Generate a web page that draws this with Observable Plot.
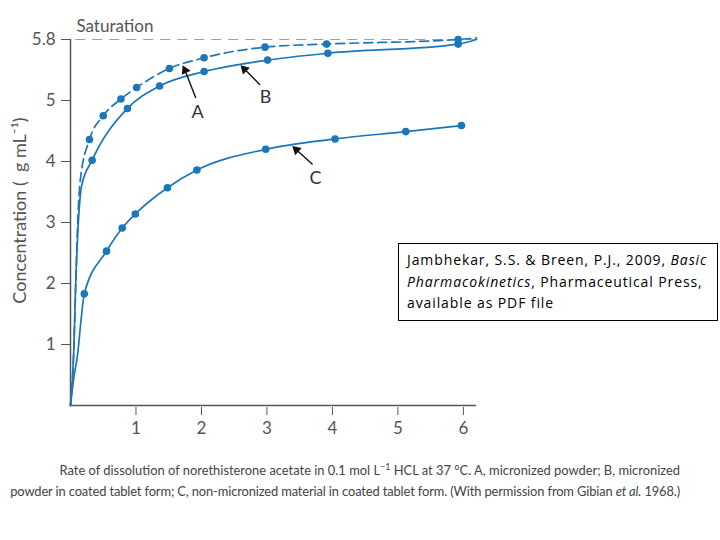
<!DOCTYPE html>
<html>
<head>
<meta charset="utf-8">
<script src="https://cdn.jsdelivr.net/npm/d3@7"></script>
<script src="https://cdn.jsdelivr.net/npm/@observablehq/plot@0.6"></script>
<style>
  body { margin: 0; background: #fff; }
  #wrap { position: relative; width: 720px; height: 540px; overflow: hidden; }
  #caption { position: absolute; right: 40px; top: 460px; text-align: right; white-space: nowrap;
    font-family: Lato, "Liberation Sans", sans-serif;
    font-size: 12.9px; line-height: 21px; color: #444; }
  #caption .l2 { letter-spacing: -0.13px; }
  #caption sup { font-size: 9px; line-height: 0; }
  #cite { position: absolute; left: 398px; top: 243px; width: 310px; height: 67px;
    border: 1px solid #000; padding: 5px 0 4px 8px; white-space: nowrap;
    font-family: "Open Sans", "Noto Sans", sans-serif; font-size: 14px; letter-spacing: 0.9px; line-height: 21.5px; color: #000; }
</style>
</head>
<body>
<div id="wrap">
  <div id="chart"></div>
  <div id="caption">
    <div>Rate of dissolution of norethisterone acetate in 0.1 mol L<sup>−1</sup> HCL at 37 °C. A, micronized powder; B, micronized</div>
    <div class="l2">powder in coated tablet form; C, non-micronized material in coated tablet form. (With permission from Gibian <i>et al.</i> 1968.)</div>
  </div>
  <div id="cite">Jambhekar, S.S. &amp; Breen, P.J., 2009, <i>Basic</i><br><i>Pharmacokinetics</i>, Pharmaceutical Press,<br>available as PDF file</div>
</div>
<script>
// Measured points (time in h, concentration)
const hoursA = [0.29, 0.50, 0.77, 1.01, 1.51, 2.04, 2.97, 3.91, 5.92];
const concA  = [4.36, 4.75, 5.02, 5.17, 5.42, 5.56, 5.70, 5.74, 5.80];
const hoursB = [0.33, 0.87, 1.36, 2.04, 3.01, 3.93, 5.92];
const concB  = [4.02, 4.87, 5.19, 5.38, 5.53, 5.62, 5.74];
const hoursC = [0.21, 0.55, 0.79, 0.99, 1.48, 1.93, 2.98, 4.04, 5.12, 5.97];
const concC  = [1.83, 2.53, 2.91, 3.14, 3.57, 3.86, 4.20, 4.37, 4.49, 4.59];

// Fitted curves
const curveAx = [0, 0.05, 0.08, 0.11, 0.15, 0.29, 0.50, 0.77, 1.01, 1.51, 2.04, 2.97, 3.91, 5.92, 6.2];
const curveAy = [0, 0.9, 2.0, 3.0, 3.7, 4.36, 4.75, 5.02, 5.17, 5.42, 5.56, 5.70, 5.74, 5.80, 5.82];
const curveBx = [0, 0.05, 0.08, 0.12, 0.17, 0.33, 0.87, 1.36, 2.04, 3.01, 3.93, 5.92, 6.2];
const curveBy = [0, 0.9, 2.0, 3.0, 3.6, 4.02, 4.87, 5.19, 5.38, 5.53, 5.62, 5.74, 5.80];
const curveCx = [0, 0.05, 0.11, 0.16, 0.21, 0.55, 0.79, 0.99, 1.48, 1.93, 2.98, 4.04, 5.12, 5.97];
const curveCy = [0, 0.45, 0.85, 1.39, 1.83, 2.53, 2.91, 3.14, 3.57, 3.86, 4.20, 4.37, 4.49, 4.59];

const saturation = 5.8;
const xTicks = [1, 2, 3, 4, 5, 6];
const yTicks = [1, 2, 3, 4, 5, 5.8];

// Annotations: label and arrow (tail -> head) in data units
const labels = ["A", "B", "C"];
const labelX = [1.94, 2.98, 3.74];
const labelY = [4.80, 5.04, 3.73];
const arrowX1 = [1.91, 2.89, 3.69];
const arrowY1 = [5.04, 5.21, 3.96];
const arrowX2 = [1.72, 2.60, 3.39];
const arrowY2 = [5.46, 5.46, 4.25];
const arrowBend = [-8, 0, 0];

// The original axis is stretched above 5 (5 -> 5.8 spans the height of 0.8 × 1.25 units)
const stretch = v => (v <= 5 ? v : 5 + (v - 5) * 1.25);

// layout
const W = 720, H = 450, mL = 70, mR = 244, mT = 39, mB = 45;
const xMax = 6.2, yMax = stretch(saturation);
const kx = (W - mL - mR) / xMax;   // px per hour
const ky = (H - mT - mB) / yMax;   // px per (stretched) unit

const blue = "#1b76ba";
const zip = (xs, ys) => xs.map((x, i) => ({x, y: ys[i]}));
const headBack = 5.2; // px from tip to triangle centre
const ann = labels.map((l, i) => {
  const dxp = (arrowX2[i] - arrowX1[i]) * kx;
  const dyp = -(stretch(arrowY2[i]) - stretch(arrowY1[i])) * ky;
  const len = Math.hypot(dxp, dyp);
  const ux = dxp / len, uy = dyp / len;
  const rot = Math.atan2(ux, -uy) * 180 / Math.PI + arrowBend[i] / 2;
  const hx = arrowX2[i] - ux * headBack / kx;
  const hyS = stretch(arrowY2[i]) + uy * headBack / ky;
  const hy = hyS <= 5 ? hyS : 5 + (hyS - 5) / 1.25;
  return {l, x: labelX[i], y: labelY[i], x1: arrowX1[i], y1: arrowY1[i], x2: arrowX2[i], y2: arrowY2[i], bend: arrowBend[i], hx, hy, rot};
});

const plot = Plot.plot({
  width: W,
  height: H,
  marginLeft: mL,
  marginRight: mR,
  marginTop: mT,
  marginBottom: mB,
  style: {fontFamily: "Lato, 'Open Sans', sans-serif", fontSize: "16px", color: "#555"},
  x: {domain: [0, xMax]},
  y: {domain: [0, yMax], transform: stretch},
  marks: [
    Plot.ruleY([saturation], {x1: 0.08, x2: 6.2, stroke: "#a0a0a0", strokeDasharray: "10,7", strokeWidth: 1}),
    Plot.text(["Saturation"], {x: 0.09, y: saturation, dy: -13, textAnchor: "start", fill: "#555", fontSize: 17}),
    Plot.ruleX([0], {y1: 0, y2: saturation, stroke: "#555", strokeWidth: 1.5}),
    Plot.ruleY([0], {x1: 0, x2: 6.2, stroke: "#555", strokeWidth: 1.5}),
    Plot.axisX(xTicks, {tickSize: 8, tickPadding: 6, dy: 2, fontSize: 17, label: null}),
    Plot.axisY(yTicks, {tickSize: 9, tickPadding: 6, tickFormat: d => String(d), fontSize: 17, label: null}),
    Plot.text(["Concentration (  g mL⁻¹)"], {frameAnchor: "left", textAnchor: "middle", dx: -50, dy: -12, rotate: -90, fill: "#555", fontSize: 18}),
    Plot.line(zip(curveAx, curveAy), {x: "x", y: "y", curve: "monotone-x", stroke: blue, strokeWidth: 1.7, strokeDasharray: "9,5"}),
    Plot.line(zip(curveBx, curveBy), {x: "x", y: "y", curve: "monotone-x", stroke: blue, strokeWidth: 1.7}),
    Plot.line(zip(curveCx, curveCy), {x: "x", y: "y", curve: "monotone-x", stroke: blue, strokeWidth: 1.7}),
    Plot.dot(zip(hoursA, concA), {x: "x", y: "y", r: 3.8, fill: blue}),
    Plot.dot(zip(hoursB, concB), {x: "x", y: "y", r: 3.8, fill: blue}),
    Plot.dot(zip(hoursC, concC), {x: "x", y: "y", r: 3.8, fill: blue}),
    Plot.arrow(ann, {x1: "x1", y1: "y1", x2: "hx", y2: "hy", bend: "bend", stroke: "#111", strokeWidth: 1.4, headLength: 0}),
    Plot.dot(ann, {x: "hx", y: "hy", symbol: "triangle", r: 3.6, rotate: "rot", fill: "#111", stroke: "none"}),
    Plot.text(ann, {x: "x", y: "y", text: "l", fill: "#333", fontSize: 18})
  ]
});
document.getElementById("chart").appendChild(plot);
d3.select(plot).selectAll("g[aria-label*='tick label']").attr("font-size", 17).selectAll("text").style("font-size", "17px");
</script>
</body>
</html>
